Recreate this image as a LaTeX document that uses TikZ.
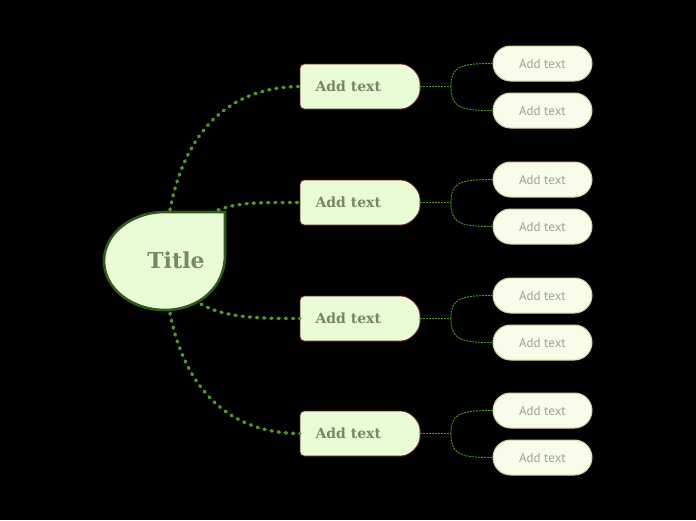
\documentclass[tikz,border=0pt]{standalone}
\usepackage{fontspec}
\newfontfamily\slabfont{DejaVu Serif}
\newfontfamily\subfont{PT Sans}
\usetikzlibrary{shapes.misc}
\definecolor{bgc}{HTML}{000000}
\definecolor{titlefill}{HTML}{E9FCD5}
\definecolor{titleline}{HTML}{2F5A1C}
\definecolor{mainline}{HTML}{6B2020}
\definecolor{maintext}{HTML}{7A8766}
\definecolor{subfill}{HTML}{F8FDE9}
\definecolor{subline}{HTML}{D8CC9A}
\definecolor{subtext}{HTML}{9EA58E}
\definecolor{linkgreen}{HTML}{4F9A1F}
\tikzset{
  mainbox/.style={rectangle, minimum width=120pt, minimum height=45pt, inner sep=0pt, outer sep=0pt},
  mainshape/.style={draw=mainline, line width=0.9pt, fill=titlefill, rounded corners=4pt},
  mainlabel/.style={text=maintext, font=\slabfont\bfseries\fontsize{14}{16}\selectfont, anchor=west},
  subbox/.style={rounded rectangle, draw=subline, line width=1pt, fill=subfill,
    minimum width=99pt, minimum height=35pt, inner sep=0pt, text=subtext,
    font=\subfont\fontsize{13}{15}\selectfont},
  biglink/.style={linkgreen, line width=3.4pt, line cap=round, dash pattern=on 1.2pt off 6pt},
  smalllink/.style={linkgreen, line width=0.9pt, dash pattern=on 2pt off 1pt}
}
\begin{document}
\begin{tikzpicture}[x=1pt,y=-1pt]
\fill[bgc] (0,0) rectangle (696,520);
\useasboundingbox (0,0) rectangle (696,520);
% title shape
\draw[titleline, fill=titlefill, line width=2.6pt, line join=miter]
  (165,212) -- (225,212) -- (225,255)
  .. controls (225,288) and (198,310) .. (165,310)
  .. controls (131,310) and (104,288) .. (104,261)
  .. controls (104,234) and (131,212) .. (165,212) -- cycle;
\node[text=maintext, font=\slabfont\bfseries\fontsize{22}{24}\selectfont] (title) at (176,260) {Title};
\coordinate (t1) at (170,210);
\coordinate (t2) at (218,210);
\coordinate (t3) at (201,304);
\coordinate (t4) at (170,313);
% main nodes
\foreach \i/\y in {1/86.5, 2/202.5, 3/318.5, 4/433.5}{
  \node[mainbox] (m\i) at (360,\y) {};
  \draw[mainshape] (397.5,\y-22.5) .. controls (409.9,\y-22.5) and (420,\y-12.4) .. (420,\y)
     .. controls (420,\y+12.4) and (409.9,\y+22.5) .. (397.5,\y+22.5)
     -- (300,\y+22.5) -- (300,\y-22.5) -- cycle;
  \node[mainlabel] (ml\i) at (312,\y) {Add text};
  \node[subbox] (s\i a) at (542.5,\y-23) {Add text};
  \node[subbox] (s\i b) at (542.5,\y+24) {Add text};
  \coordinate (j\i) at (451,\y);
  \draw[smalllink] (m\i.east) -- (j\i);
  \draw[smalllink] (j\i) .. controls (451,\y-20) and (460,\y-23) .. (s\i a.west);
  \draw[smalllink] (j\i) .. controls (451,\y+21) and (460,\y+24) .. (s\i b.west);
}
% big links
\draw[biglink] (t1) .. controls (185,130) and (230,87) .. (m1.west);
\draw[biglink] (t2) .. controls (240,202) and (260,202.5) .. (m2.west);
\draw[biglink] (t3) .. controls (225,318) and (260,318.5) .. (m3.west);
\draw[biglink] (t4) .. controls (185,390) and (230,433.5) .. (m4.west);
\end{tikzpicture}
\end{document}
